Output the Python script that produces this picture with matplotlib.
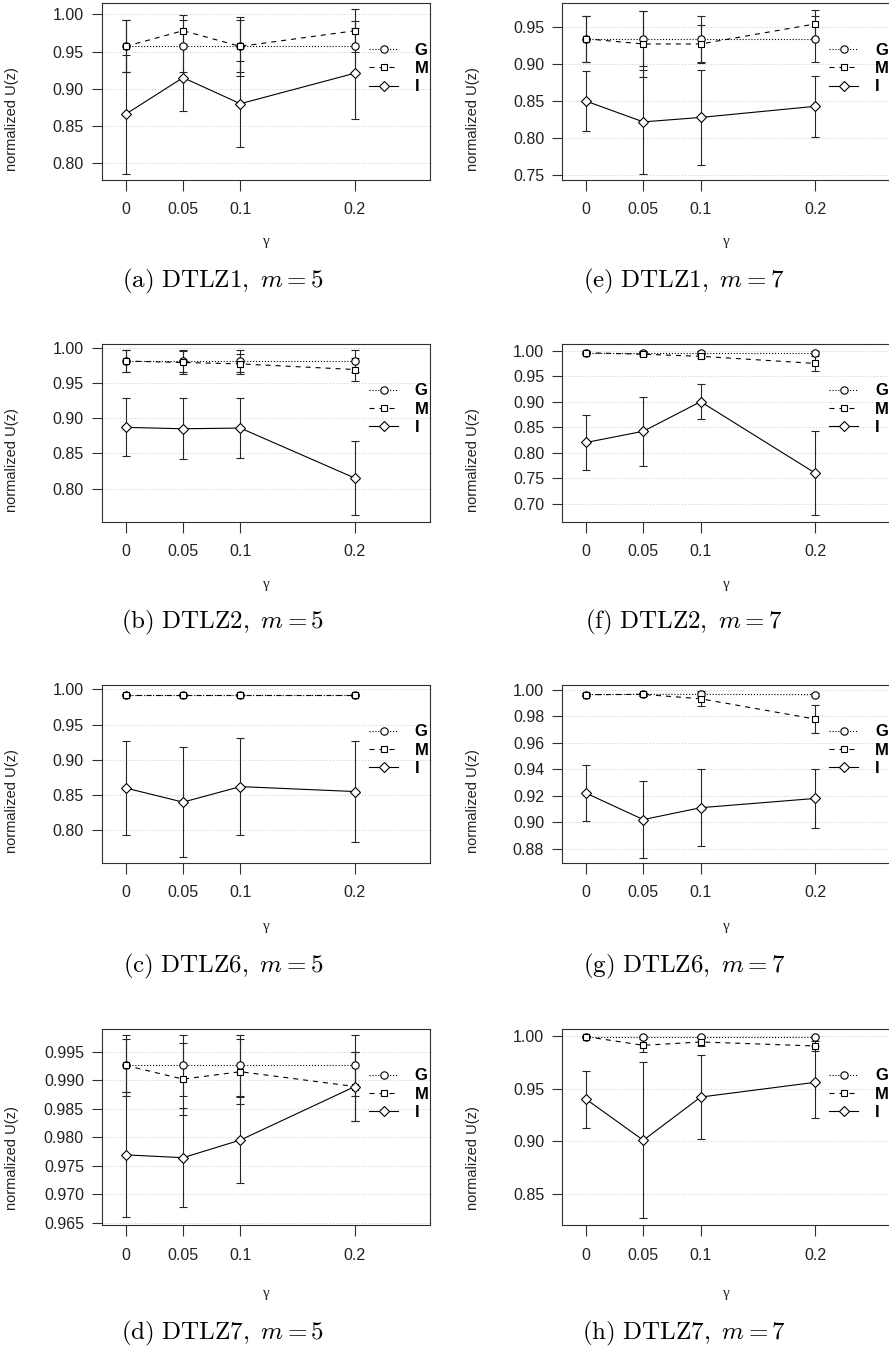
import numpy as np
import matplotlib.pyplot as plt
from matplotlib.lines import Line2D

plt.rcParams['font.family'] = ['Liberation Sans', 'DejaVu Sans']
plt.rcParams['mathtext.fontset'] = 'cm'

gamma = [0, 0.05, 0.1, 0.2]
gamma_labels = ['0', '0.05', '0.1', '0.2']
series = ['G', 'M', 'I']

# средние и ст. отклонения, порядок рядов [G, M, I]
dtlz1_m5_mean = [[0.957, 0.957, 0.957, 0.957], [0.957, 0.978, 0.957, 0.978], [0.866, 0.915, 0.880, 0.921]]
dtlz1_m5_sd = [[0.035, 0.035, 0.035, 0.034], [0.035, 0.021, 0.040, 0.029], [0.080, 0.045, 0.058, 0.061]]

dtlz2_m5_mean = [[0.981, 0.981, 0.981, 0.981], [0.981, 0.979, 0.977, 0.969], [0.887, 0.885, 0.886, 0.815]]
dtlz2_m5_sd = [[0.015, 0.015, 0.015, 0.015], [0.015, 0.016, 0.014, 0.016], [0.041, 0.043, 0.043, 0.052]]

dtlz6_m5_mean = [[0.992, 0.992, 0.992, 0.992], [0.992, 0.992, 0.992, 0.992], [0.860, 0.840, 0.862, 0.855]]
dtlz6_m5_sd = [[0.002, 0.002, 0.002, 0.002], [0.002, 0.002, 0.002, 0.002], [0.066, 0.078, 0.069, 0.071]]

dtlz7_m5_mean = [[0.9926, 0.9926, 0.9926, 0.9926], [0.9926, 0.9902, 0.9915, 0.9889], [0.9769, 0.9764, 0.9795, 0.9889]]
dtlz7_m5_sd = [[0.0053, 0.0053, 0.0053, 0.0053], [0.0047, 0.0063, 0.0057, 0.0060], [0.0110, 0.0087, 0.0076, 0.0060]]

dtlz1_m7_mean = [[0.934, 0.934, 0.934, 0.934], [0.934, 0.927, 0.927, 0.954], [0.850, 0.822, 0.828, 0.843]]
dtlz1_m7_sd = [[0.031, 0.037, 0.031, 0.031], [0.031, 0.045, 0.025, 0.019], [0.040, 0.070, 0.064, 0.041]]

dtlz2_m7_mean = [[0.996, 0.996, 0.996, 0.996], [0.996, 0.993, 0.989, 0.975], [0.820, 0.842, 0.900, 0.760]]
dtlz2_m7_sd = [[0.003, 0.003, 0.003, 0.003], [0.003, 0.004, 0.004, 0.014], [0.053, 0.068, 0.034, 0.083]]

dtlz6_m7_mean = [[0.9965, 0.9967, 0.9967, 0.9965], [0.9965, 0.9967, 0.9934, 0.978], [0.922, 0.902, 0.911, 0.918]]
dtlz6_m7_sd = [[0.001, 0.001, 0.001, 0.001], [0.001, 0.001, 0.0055, 0.0104], [0.021, 0.029, 0.029, 0.022]]

dtlz7_m7_mean = [[0.9994, 0.9994, 0.9994, 0.9994], [0.9994, 0.9911, 0.9943, 0.9905], [0.940, 0.901, 0.942, 0.956]]
dtlz7_m7_sd = [[0.0005, 0.0005, 0.0005, 0.0005], [0.0005, 0.006, 0.004, 0.005], [0.027, 0.074, 0.040, 0.034]]

captions = [r'$\mathrm{(a)\ DTLZ1,}\ m = 5$', r'$\mathrm{(b)\ DTLZ2,}\ m = 5$',
            r'$\mathrm{(c)\ DTLZ6,}\ m = 5$', r'$\mathrm{(d)\ DTLZ7,}\ m = 5$',
            r'$\mathrm{(e)\ DTLZ1,}\ m = 7$', r'$\mathrm{(f)\ DTLZ2,}\ m = 7$',
            r'$\mathrm{(g)\ DTLZ6,}\ m = 7$', r'$\mathrm{(h)\ DTLZ7,}\ m = 7$']

# (mean, sd, ylim, yticks, формат, колонка, строка)
panels = [
    (dtlz1_m5_mean, dtlz1_m5_sd, (0.7776, 1.0148), np.arange(0.80, 1.001, 0.05), '%.2f', 0, 0),
    (dtlz2_m5_mean, dtlz2_m5_sd, (0.7532, 1.0052), np.arange(0.80, 1.001, 0.05), '%.2f', 0, 1),
    (dtlz6_m5_mean, dtlz6_m5_sd, (0.7541, 1.0061), np.arange(0.80, 1.001, 0.05), '%.2f', 0, 2),
    (dtlz7_m5_mean, dtlz7_m5_sd, (0.96453, 0.9990), np.arange(0.965, 0.9951, 0.005), '%.3f', 0, 3),
    (dtlz1_m7_mean, dtlz1_m7_sd, (0.7437, 0.9818), np.arange(0.75, 0.951, 0.05), '%.2f', 1, 0),
    (dtlz2_m7_mean, dtlz2_m7_sd, (0.6647, 1.0131), np.arange(0.70, 1.001, 0.05), '%.2f', 1, 1),
    (dtlz6_m7_mean, dtlz6_m7_sd, (0.8694, 1.0038), np.arange(0.88, 1.001, 0.02), '%.2f', 1, 2),
    (dtlz7_m7_mean, dtlz7_m7_sd, (0.8203, 1.0066), np.arange(0.85, 1.001, 0.05), '%.2f', 1, 3),
]

styles = [(':', 'o', 5.3), ((0, (4.5, 4.5)), 's', 5.0), ('-', 'D', 5.5)]

W, H = 889, 1349
fig = plt.figure(figsize=(W / 100, H / 100), dpi=100)

col_left = [102, 562.3]
ax_w = 328
row_top = [3.3, 344, 685, 1029]
row_h = [176.7, 177.7, 177.7, 196.3]
gamma_off = [62, 63, 64, 68]
cap_base = [287, 628, 972, 1339]

for k, (mean, sd, ylim, yticks, fmt, col, row) in enumerate(panels):
    l, t, h = col_left[col], row_top[row], row_h[row]
    ax = fig.add_axes([l / W, 1 - (t + h) / H, ax_w / W, h / H])

    for j in range(3):
        ls, mk, ms = styles[j]
        ax.errorbar(gamma, mean[j], yerr=sd[j], fmt='none', ecolor='#262626',
                    elinewidth=0.8, capsize=3, capthick=0.8, zorder=2)
        ax.plot(gamma, mean[j], ls=ls, marker=mk, ms=ms, color='k', lw=0.8,
                mfc='white', mec='k', mew=0.8, zorder=3)

    ax.set_xlim(-0.0207, 0.2655)
    ax.set_ylim(*ylim)
    ax.set_xticks(gamma)
    ax.set_xticklabels(gamma_labels)
    ax.set_yticks(yticks)
    ax.set_yticklabels([fmt % v for v in yticks])
    ax.set_axisbelow(True)
    ax.yaxis.grid(True, ls=(0, (1, 2)), color='#c8c8c8', lw=0.7)
    for sp in ax.spines.values():
        sp.set_color('#303030')
        sp.set_linewidth(0.8)
    ax.tick_params(axis='x', direction='out', length=8, width=0.8, pad=8,
                   labelsize=11.5, color='#303030', labelcolor='#222222')
    ax.tick_params(axis='y', direction='out', length=7, width=0.8, pad=6,
                   labelsize=11.5, color='#303030', labelcolor='#222222')

    ax.set_ylabel('normalized U(z)', fontsize=10.5, color='#222222', va='center')
    ax.yaxis.set_label_coords(-89.5 / ax_w, 0.345)
    ax.set_xlabel('γ', fontsize=11, family=['Liberation Serif', 'DejaVu Serif'],
                  color='#222222', va='center')
    ax.xaxis.set_label_coords(0.5, -gamma_off[row] / h)

    handles = [Line2D([], [], ls=s[0], marker=s[1], ms=s[2], color='k', lw=0.8,
                      mfc='white', mec='k', mew=0.8) for s in styles]
    ax.legend(handles, series, loc='center left',
              bbox_to_anchor=(267 / ax_w, 1 - (47 + 18.3) / h),
              frameon=False, borderpad=0, borderaxespad=0,
              handlelength=1.75, handletextpad=1.0, labelspacing=0.2,
              numpoints=1, prop={'weight': 'bold', 'size': 12})

    cx = [223, 684][col]
    fig.text(cx / W, 1 - cap_base[row] / H, captions[k], fontsize=18,
             ha='center', va='baseline')

fig.savefig('out.png', dpi=100)
